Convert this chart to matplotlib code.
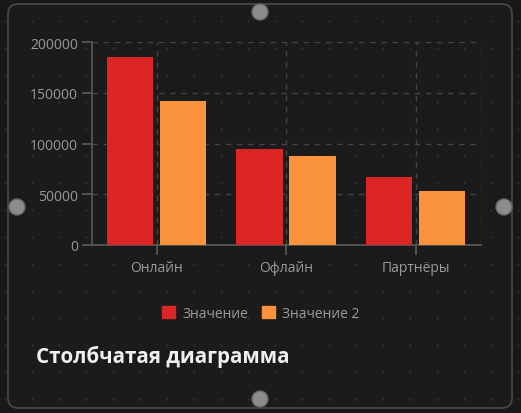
import numpy as np
import matplotlib.pyplot as plt
from matplotlib.patches import FancyBboxPatch, Patch, Circle

plt.rcParams['font.family'] = ['Open Sans', 'DejaVu Sans']

# данные
categories = ['Онлайн', 'Офлайн', 'Партнёры']
values_1 = [185000, 95000, 67000]
values_2 = [142000, 88000, 53000]
series_names = ['Значение', 'Значение 2']
colors = ['#dc2626', '#fb923c']
title = 'Столбчатая диаграмма'

W, H = 521, 414
fig = plt.figure(figsize=(W / 100, H / 100), dpi=100)
fig.patch.set_facecolor('#181818')

# фон: карточка, точки, маркеры
bg = fig.add_axes([0, 0, 1, 1])
bg.set_xlim(0, W)
bg.set_ylim(H, 0)
bg.axis('off')
card = FancyBboxPatch((8, 5), 504, 404, boxstyle='round,pad=0,rounding_size=10',
                      facecolor='#1b1b1b', edgecolor='#4a4a4a', lw=1.2, zorder=1)
bg.add_patch(card)
gx, gy = np.meshgrid(np.arange(4.7, W, 27), np.arange(21.7, H, 27))
bg.scatter(gx.ravel(), gy.ravel(), s=1.6, color='#3a3a3a', lw=0, zorder=2)
for cx, cy in [(260, 13), (17, 208), (504, 208), (260, 400)]:
    bg.add_patch(Circle((cx, cy), 8, facecolor='#8c8c8c', edgecolor='#666666', lw=1, zorder=3))

# график
ax = fig.add_axes([92 / W, 1 - 245.7 / H, 388.7 / W, 202.4 / H])
ax.set_facecolor('none')
x = np.arange(len(categories))
bw = 0.36
ax.bar(x - 0.208, values_1, bw, color=colors[0], zorder=3)
ax.bar(x + 0.202, values_2, bw, color=colors[1], zorder=3)

ax.set_xlim(-0.5, 2.5)
ax.set_ylim(0, 200000)
ax.set_yticks(np.arange(0, 200001, 50000))
ax.set_xticks(x)
ax.set_xticklabels(categories)

for yv in np.arange(50000, 200001, 50000):
    ax.axhline(yv, color='#444444', lw=1, ls=(0, (4, 4)), zorder=1)
for xv in list(x) + [2.5]:
    ax.axvline(xv, color='#444444', lw=1, ls=(0, (4, 4)), zorder=1)

for s in ['top', 'right']:
    ax.spines[s].set_visible(False)
for s in ['left', 'bottom']:
    ax.spines[s].set_color('#5a5a5a')
    ax.spines[s].set_linewidth(1.2)
ax.tick_params(axis='both', colors='#5a5a5a', labelcolor='#9a9a9a', labelsize=10,
               length=7, width=1.2)
ax.tick_params(axis='y', pad=3)
ax.tick_params(axis='x', pad=4)

handles = [Patch(facecolor=c, edgecolor=c, label=n) for c, n in zip(colors, series_names)]
leg = fig.legend(handles=handles, loc='center', bbox_to_anchor=(261 / W, 1 - 314 / H),
                 ncol=2, frameon=False, fontsize=10, handlelength=0.95, handleheight=0.95,
                 handletextpad=0.5, columnspacing=1.0)
for t in leg.get_texts():
    t.set_color('#9a9a9a')

fig.text(36 / W, 1 - 357 / H, title, color='#f0f0f0', fontsize=14.8, fontweight='bold',
         ha='left', va='center')

fig.savefig('out.png', dpi=100, facecolor=fig.get_facecolor())
